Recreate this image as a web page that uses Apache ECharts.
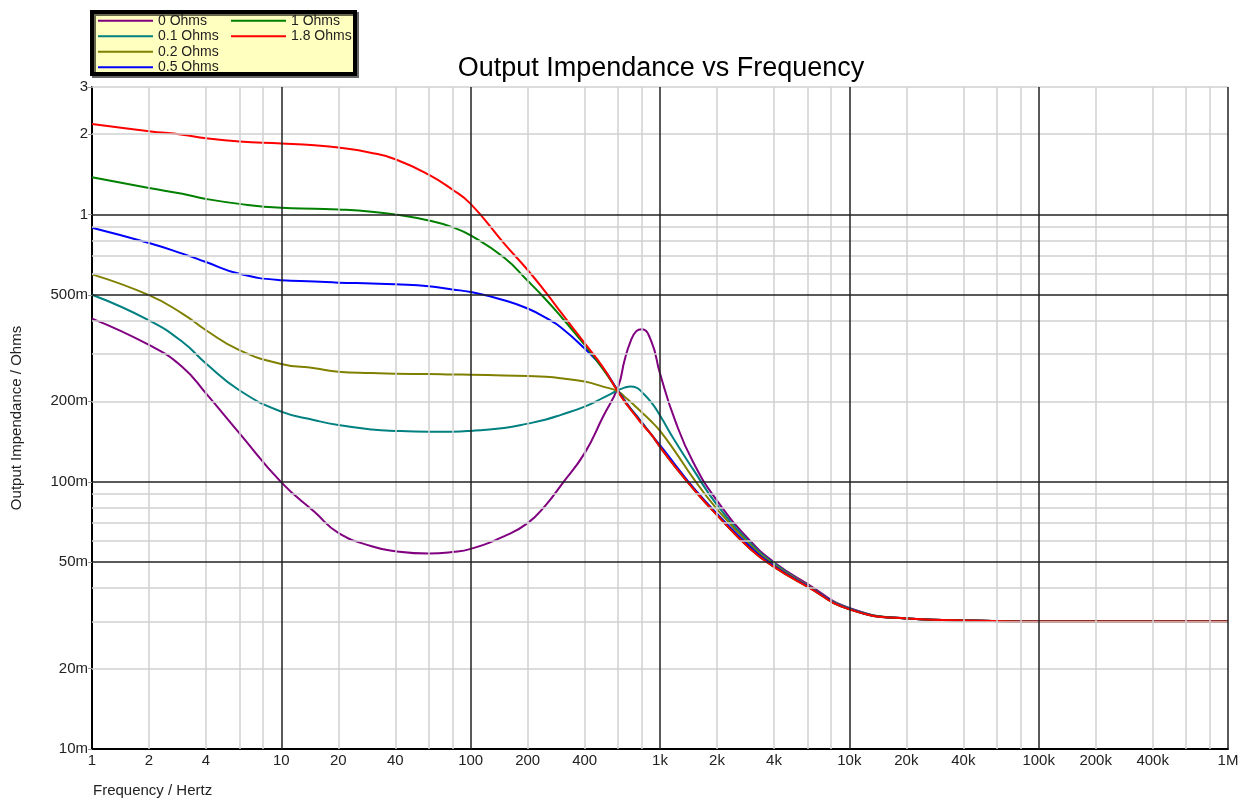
<!DOCTYPE html>
<html>
<head>
<meta charset="utf-8">
<title>Output Impendance vs Frequency</title>
<script src="https://cdn.jsdelivr.net/npm/echarts@6.0.0/dist/echarts.min.js"></script>
<style>
  html, body { margin: 0; padding: 0; background: #fff; }
  #chart { width: 1243px; height: 800px; }
</style>
</head>
<body>
<div id="chart"></div>
<script>
// frequency points (Hz) shared by every trace
const freqs = [1, 2, 3, 4, 6, 10, 15, 20, 30, 40, 60, 80, 100, 150, 200, 250, 300, 400, 500, 600, 650, 700, 750, 800, 900,
  1000, 1200, 1500, 2000, 3000, 4000, 6000, 10000, 20000, 50000, 100000, 1000000]

// output impedance (ohms), one array per load resistor
const z0 = [0.408, 0.325, 0.269, 0.214, 0.152, 0.0995, 0.077, 0.0644, 0.0574, 0.055, 0.0539, 0.0546, 0.0561, 0.0625, 0.070, 0.082, 0.097, 0.128, 0.175, 0.226, 0.285, 0.336, 0.366, 0.372, 0.335,
  0.254, 0.170, 0.118, 0.085, 0.060, 0.050, 0.0415, 0.0337, 0.0308, 0.0302, 0.0300, 0.0300]
const z01 = [0.501, 0.402, 0.334, 0.277, 0.220, 0.183, 0.170, 0.163, 0.157, 0.155, 0.154, 0.154, 0.155, 0.159, 0.165, 0.171, 0.178, 0.191, 0.206, 0.220, 0.225, 0.227, 0.225, 0.217, 0.198,
  0.177, 0.142, 0.111, 0.082, 0.059, 0.0495, 0.041, 0.0336, 0.0308, 0.0302, 0.0300, 0.0300]
const z02 = [0.597, 0.499, 0.426, 0.369, 0.311, 0.276, 0.266, 0.258, 0.255, 0.2535, 0.253, 0.252, 0.2515, 0.250, 0.2485, 0.247, 0.244, 0.237, 0.227, 0.218, 0.208, 0.199, 0.190, 0.182, 0.168,
  0.155, 0.130, 0.103, 0.079, 0.058, 0.049, 0.041, 0.0335, 0.0308, 0.0302, 0.0300, 0.0300]
const z05 = [0.892, 0.782, 0.714, 0.664, 0.600, 0.568, 0.562, 0.556, 0.552, 0.548, 0.539, 0.524, 0.513, 0.478, 0.445, 0.410, 0.378, 0.315, 0.266, 0.219, 0.202, 0.188, 0.177, 0.167, 0.150,
  0.137, 0.116, 0.095, 0.076, 0.057, 0.0485, 0.0408, 0.0334, 0.0308, 0.0302, 0.0300, 0.0300]
const z1 = [1.378, 1.257, 1.195, 1.144, 1.096, 1.059, 1.050, 1.044, 1.025, 1.000, 0.950, 0.897, 0.835, 0.690, 0.565, 0.480, 0.415, 0.325, 0.264, 0.218, 0.200, 0.187, 0.176, 0.166, 0.150,
  0.135, 0.114, 0.094, 0.075, 0.056, 0.048, 0.0405, 0.0333, 0.0308, 0.0302, 0.0300, 0.0300]
const z18 = [2.18, 2.05, 1.99, 1.93, 1.877, 1.845, 1.815, 1.78, 1.70, 1.61, 1.41, 1.24, 1.096, 0.78, 0.62, 0.51, 0.43, 0.33, 0.268, 0.217, 0.200, 0.186, 0.175, 0.165, 0.150,
  0.135, 0.114, 0.094, 0.075, 0.056, 0.048, 0.0405, 0.0333, 0.0308, 0.0302, 0.0300, 0.0300]

const seriesNames = ['0 Ohms', '0.1 Ohms', '0.2 Ohms', '0.5 Ohms', '1 Ohms', '1.8 Ohms']
const seriesValues = [z0, z01, z02, z05, z1, z18]
const seriesColors = ['#800080', '#008080', '#808000', '#0000ff', '#008000', '#ff0000']

// tick labels
const xTicks = [1, 2, 4, 10, 20, 40, 100, 200, 400, 1e3, 2e3, 4e3, 1e4, 2e4, 4e4, 1e5, 2e5, 4e5, 1e6]
const yTicks = [0.01, 0.02, 0.05, 0.1, 0.2, 0.5, 1, 2, 3]

// grid lines
const xMajor = [10, 100, 1e3, 1e4, 1e5, 1e6]
const xMinor = [1, 10, 100, 1e3, 1e4, 1e5].flatMap(d => [2, 4, 6, 8].map(m => d * m))
const yMajor = [0.05, 0.1, 0.5, 1]
const yMinor = [0.02, 0.03, 0.04, 0.06, 0.07, 0.08, 0.09, 0.2, 0.3, 0.4, 0.6, 0.7, 0.8, 0.9, 2, 3]

const FONT = 'Liberation Sans, Arial, sans-serif'
const GRAY = { color: '#d0d0d0', width: 1.5, type: 'solid' }
const BLACK = { color: '#222', width: 1.5, type: 'solid' }

function fmtX(v) {
  if (v >= 1e6) return Math.round(v / 1e6) + 'M'
  if (v >= 1e3) return Math.round(v / 1e3) + 'k'
  return String(v)
}
function fmtY(v) {
  if (v >= 1) return String(v)
  return Math.round(v * 1000) + 'm'
}

const gridLines = [
  ...xMinor.map(v => ({ xAxis: v, lineStyle: GRAY })),
  ...yMinor.map(v => ({ yAxis: v, lineStyle: GRAY })),
  ...xMajor.map(v => ({ xAxis: v, lineStyle: BLACK })),
  ...yMajor.map(v => ({ yAxis: v, lineStyle: BLACK })),
]

const chart = echarts.init(document.getElementById('chart'))

chart.setOption({
  animation: false,
  backgroundColor: '#fff',
  title: {
    text: 'Output Impendance vs Frequency',
    left: 656,
    textAlign: 'center',
    top: 50,
    textStyle: { fontFamily: FONT, fontSize: 27, fontWeight: 'normal', color: '#000' },
  },
  legend: {
    orient: 'vertical',
    left: 98,
    top: 13,
    height: 63,
    padding: 0,
    itemGap: 0,
    itemWidth: 55,
    itemHeight: 2,
    icon: 'rect',
    z: 10,
    data: seriesNames,
    textStyle: { fontFamily: FONT, fontSize: 14, lineHeight: 15.5, width: 73, color: '#222' },
  },
  graphic: [
    {
      type: 'rect',
      z: 0,
      shape: { x: 92, y: 12, width: 263, height: 62 },
      style: { fill: '#ffffc0', stroke: '#000', lineWidth: 4, shadowColor: 'rgba(0,0,0,0.6)', shadowOffsetX: 2, shadowOffsetY: 2 },
    },
    {
      type: 'text',
      left: 93,
      top: 783,
      style: { text: 'Frequency / Hertz', font: '15px ' + FONT, fill: '#222' },
    },
  ],
  grid: { left: 92, right: 15, top: 87, bottom: 51, containLabel: false },
  xAxis: {
    type: 'log',
    logBase: 10,
    min: 1,
    max: 1e6,
    axisLine: { show: true, onZero: false, lineStyle: { color: '#000', width: 2 } },
    axisTick: { show: false },
    splitLine: { show: false },
    minorSplitLine: { show: false },
    axisLabel: {
      customValues: xTicks,
      formatter: fmtX,
      margin: 4,
      fontFamily: FONT,
      fontSize: 15,
      color: '#222',
    },
  },
  yAxis: {
    type: 'log',
    logBase: 10,
    min: 0.01,
    max: 3,
    name: 'Output Impendance / Ohms',
    nameLocation: 'middle',
    nameGap: 68,
    nameTextStyle: { fontFamily: FONT, fontSize: 15, color: '#222' },
    axisLine: { show: true, onZero: false, lineStyle: { color: '#000', width: 2 } },
    axisTick: { show: true, customValues: yTicks, length: 4, lineStyle: { color: '#999' } },
    splitLine: { show: false },
    axisLabel: {
      customValues: yTicks,
      formatter: fmtY,
      margin: 4,
      fontFamily: FONT,
      fontSize: 15,
      color: '#222',
    },
  },
  series: [
    {
      name: 'grid',
      type: 'line',
      z: 1,
      data: [],
      silent: true,
      markLine: {
        silent: true,
        symbol: 'none',
        label: { show: false },
        emphasis: { disabled: true },
        data: gridLines,
      },
    },
    ...seriesNames.map((name, i) => ({
      name,
      type: 'line',
      z: 3,
      data: freqs.map((f, j) => [f, seriesValues[i][j]]),
      showSymbol: false,
      symbol: 'none',
      smooth: 0.5,
      color: seriesColors[i],
      lineStyle: { color: seriesColors[i], width: 2 },
    })),
  ],
})
</script>
</body>
</html>
